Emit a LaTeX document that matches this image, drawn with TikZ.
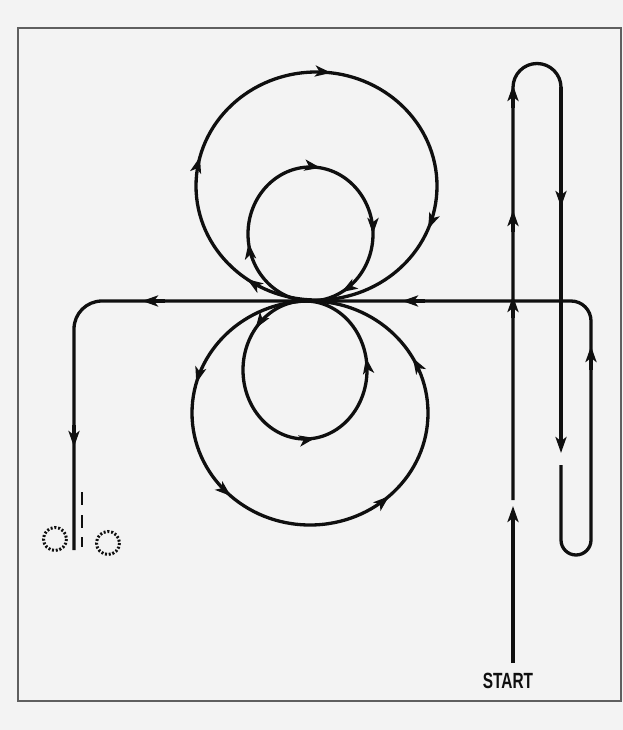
\documentclass[tikz,border=0pt]{standalone}
\usepackage{fontspec}
\setmainfont{Liberation Sans}
\usetikzlibrary{arrows.meta,decorations.markings}
\definecolor{paper}{RGB}{243,243,243}
\definecolor{ink}{RGB}{15,15,15}
\definecolor{framec}{RGB}{95,95,95}
\begin{document}
\begin{tikzpicture}[x=1pt,y=-1pt,
  >={Stealth[length=16pt,width=11pt,inset=4pt]},
  trail/.style={draw=ink,line width=3.3pt},
  tipped/.style={draw=ink,line width=3.3pt,->},
  marked/.style={postaction={decorate}},
  dashmark/.style={draw=ink,line width=2.4pt},
  dotring/.style={draw=ink,line width=3pt,dash pattern=on 2pt off 1.8pt}
]
\fill[paper] (0,0) rectangle (623,730);
\useasboundingbox (0,0) rectangle (623,730);
\draw[framec,line width=1.2pt] (621,28) -- (18,28) -- (18,701) -- (621,701) -- cycle;

% named points of the route
\coordinate (s0) at (513,663);
\coordinate (s1) at (513,506);
\coordinate (u0) at (513,500);
\coordinate (u1) at (513,87.5);
\coordinate (d0) at (561,87.5);
\coordinate (d1) at (561,453);
\coordinate (e0) at (561,465);
\coordinate (e1) at (561,540);
\coordinate (r0) at (591,540);
\coordinate (r1) at (591,321);
\coordinate (h0) at (571,301);
\coordinate (h1) at (102,301);
\coordinate (l0) at (74,329);
\coordinate (l1) at (74,550);

% route
\draw[tipped] (s0) -- (s1);
\draw[trail] (u0) -- (u1) arc[start angle=180,end angle=360,radius=24] -- (d0);
\draw[tipped] (d0) -- (d1);
\draw[trail] (e0) -- (e1) arc[start angle=180,end angle=0,radius=15] -- (r0) -- (r1)
  arc[start angle=0,end angle=-90,radius=20] -- (h0) -- (h1)
  arc[start angle=-90,end angle=-180,radius=28] -- (l0) -- (l1);

% arrows on straight parts
\draw[tipped] (513,318) -- (513,296);
\draw[tipped] (513,232) -- (513,210);
\draw[tipped] (513,108) -- (513,85);
\draw[tipped] (561,185) -- (561,207);
\draw[tipped] (591,370) -- (591,346);
\draw[tipped] (425,301) -- (402,301);
\draw[tipped] (165,301) -- (142,301);
\draw[tipped] (74,425) -- (74,447);

% top large loop (clockwise)
\draw[trail,marked,decoration={markings,
  mark=at position 0.10 with {\arrow{>}},
  mark=at position 0.29 with {\arrow{>}},
  mark=at position 0.52 with {\arrow{>}},
  mark=at position 0.81 with {\arrow{>}}}]
  (316.5,300) arc[start angle=90,end angle=450,x radius=120.5,y radius=114];
% top small loop (clockwise)
\draw[trail,marked,decoration={markings,
  mark=at position 0.228 with {\arrow{>}},
  mark=at position 0.525 with {\arrow{>}},
  mark=at position 0.75 with {\arrow{>}},
  mark=at position 0.92 with {\arrow{>}}}]
  (310.5,301) arc[start angle=90,end angle=450,x radius=62.5,y radius=67];
% bottom large loop (counter-clockwise)
\draw[trail,marked,decoration={markings,
  mark=at position 0.208 with {\arrow{>}},
  mark=at position 0.381 with {\arrow{>}},
  mark=at position 0.619 with {\arrow{>}},
  mark=at position 0.83 with {\arrow{>}}}]
  (310,301) arc[start angle=-90,end angle=-450,x radius=118,y radius=112];
% bottom small loop (counter-clockwise)
\draw[trail,marked,decoration={markings,
  mark=at position 0.143 with {\arrow{>}},
  mark=at position 0.525 with {\arrow{>}},
  mark=at position 0.78 with {\arrow{>}}}]
  (305,301) arc[start angle=-90,end angle=-450,x radius=62,y radius=69];

% finish marks
\draw[dashmark] (82,492) -- (82,505);
\draw[dashmark] (82,515) -- (82,528);
\draw[dashmark] (82,537) -- (82,547);
\draw[dotring] (55,539) circle[radius=11.5];
\draw[dotring] (108,543) circle[radius=11.5];

\node[font=\bfseries\fontsize{22}{22}\selectfont,inner sep=0pt,text=ink] (start) at (508,681) {\scalebox{0.7}[1]{START}};
\end{tikzpicture}
\end{document}
